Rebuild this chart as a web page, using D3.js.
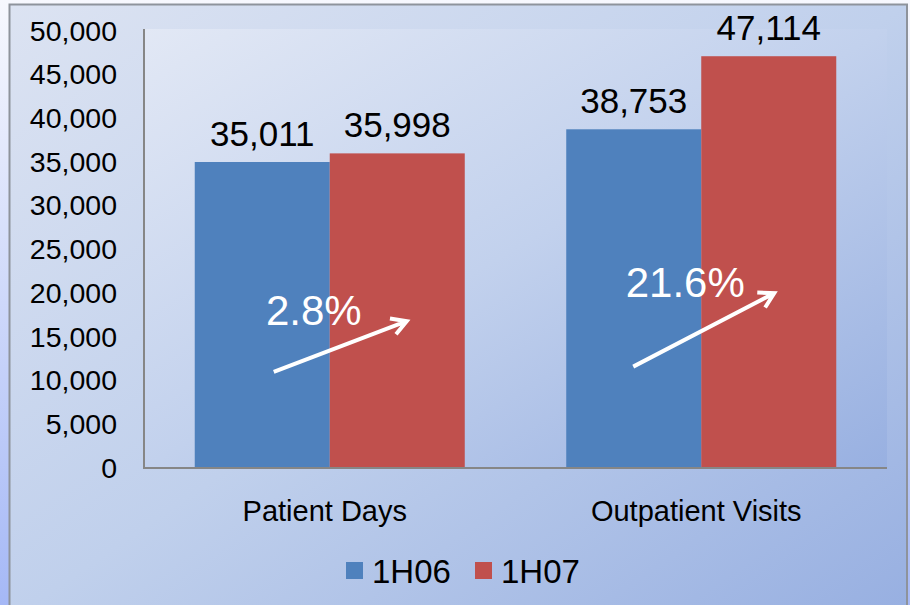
<!DOCTYPE html>
<html>
<head>
<meta charset="utf-8">
<script src="https://cdn.jsdelivr.net/npm/d3@7"></script>
<style>
  html, body { margin: 0; padding: 0; background: #fff; }
  svg { display: block; }
</style>
</head>
<body>
<script>
const categories = ['Patient Days', 'Outpatient Visits'];
const seriesNames = ['1H06', '1H07'];
const values1H06 = [35011, 38753];
const values1H07 = [35998, 47114];
const seriesColors = ['#4f81bd', '#c0504d'];
const valueLabels = [['35,011', '38,753'], ['35,998', '47,114']];
const yTicks = [0, 5000, 10000, 15000, 20000, 25000, 30000, 35000, 40000, 45000, 50000];
const growthLabels = ['2.8%', '21.6%'];
const arrowFrom = [11000, 11600];
const arrowTo = [16800, 20000];
const growthLabelAt = [16400, 19600];

const W = 910, H = 605;
const margin = { left: 144, right: 23, top: 31, bottom: 137 };

const svg = d3.select('body').append('svg')
    .attr('width', W).attr('height', H)
    .attr('xmlns', 'http://www.w3.org/2000/svg');

const defs = svg.append('defs');
function grad(id, stops, x2, y2) {
    const g = defs.append('linearGradient').attr('id', id)
        .attr('x1', 0).attr('y1', 0).attr('x2', x2).attr('y2', y2);
    stops.forEach(s => g.append('stop').attr('offset', s[0]).attr('stop-color', s[1]));
}
grad('outer', [[0, '#f7f8fe'], [1, '#a5b8f6']], 0, 1);
grad('chartBg', [[0, '#dce3f2'], [0.5, '#c0d0ec'], [1, '#97afe1']], 1, 1);
grad('plotBg', [[0, '#e2e8f5'], [0.5, '#c2d1ed'], [1, '#98b0e1']], 1, 1);

svg.append('rect').attr('width', W).attr('height', H).attr('fill', 'url(#outer)');
svg.append('rect')
    .attr('x', 9.5).attr('y', 4.5).attr('width', 897.5).attr('height', H + 10)
    .attr('fill', 'url(#chartBg)')
    .attr('stroke', '#8e939c').attr('stroke-width', 2);

const x0 = d3.scaleBand().domain(categories).range([margin.left, W - margin.right]);
const bw = x0.bandwidth();
const x1 = d3.scaleBand().domain(seriesNames).range([bw * 0.1366, bw * 0.8634]);
const y = d3.scaleLinear().domain([0, 50000]).range([H - margin.bottom, margin.top]);

svg.append('rect')
    .attr('x', margin.left).attr('y', y(50000) - 2)
    .attr('width', W - margin.right - margin.left)
    .attr('height', y(0) - y(50000) + 2)
    .attr('fill', 'url(#plotBg)');

const seriesValues = [values1H06, values1H07];

// bars
seriesNames.forEach((s, si) => {
    svg.append('g').selectAll('rect')
        .data(categories)
        .join('rect')
        .attr('x', c => x0(c) + x1(s))
        .attr('y', (c, i) => y(seriesValues[si][i]))
        .attr('width', x1.bandwidth())
        .attr('height', (c, i) => y(0) - y(seriesValues[si][i]))
        .attr('fill', seriesColors[si]);
});

// value labels
seriesNames.forEach((s, si) => {
    svg.append('g').selectAll('text')
        .data(categories)
        .join('text')
        .attr('x', c => x0(c) + x1(s) + x1.bandwidth() / 2)
        .attr('y', (c, i) => y(seriesValues[si][i]) - 16)
        .attr('text-anchor', 'middle')
        .attr('font-family', 'Arial, Liberation Sans, sans-serif')
        .attr('font-size', 35)
        .attr('fill', '#000')
        .text((c, i) => valueLabels[si][i]);
});

// y axis
const yAxis = d3.axisLeft(y).tickValues(yTicks).tickSize(0).tickPadding(27)
    .tickFormat(d3.format(','));
const ga = svg.append('g').attr('transform', `translate(${margin.left},0)`).call(yAxis);
ga.select('.domain').remove();
ga.selectAll('text')
    .attr('font-family', 'Arial, Liberation Sans, sans-serif')
    .attr('font-size', 28.5).attr('fill', '#000');

svg.append('line')
    .attr('x1', margin.left).attr('x2', margin.left)
    .attr('y1', y(50000) - 2).attr('y2', y(0))
    .attr('stroke', '#868686').attr('stroke-width', 2);
svg.append('line')
    .attr('x1', margin.left - 1).attr('x2', W - margin.right)
    .attr('y1', y(0)).attr('y2', y(0))
    .attr('stroke', '#868686').attr('stroke-width', 2);

// category labels
const xAxis = d3.axisBottom(x0).tickSize(0).tickPadding(32);
const gx = svg.append('g').attr('transform', `translate(-5,${y(0)})`).call(xAxis);
gx.select('.domain').remove();
gx.selectAll('text')
    .attr('font-family', 'Arial, Liberation Sans, sans-serif')
    .attr('font-size', 29).attr('fill', '#000');

// growth arrows and labels
const groupStart = c => x0(c) + x1(seriesNames[0]);
categories.forEach((c, i) => {
    const xs = groupStart(c) + (i === 0 ? 79 : 67);
    const xe = groupStart(c) + (i === 0 ? 212 : 208);
    const ys = y(arrowFrom[i]), ye = y(arrowTo[i]);
    const ang = Math.atan2(ye - ys, xe - xs);
    const hl = 17, ha = Math.PI / 6;
    const p = d3.path();
    p.moveTo(xs, ys); p.lineTo(xe, ye);
    p.moveTo(xe - hl * Math.cos(ang - ha), ye - hl * Math.sin(ang - ha));
    p.lineTo(xe, ye);
    p.lineTo(xe - hl * Math.cos(ang + ha), ye - hl * Math.sin(ang + ha));
    svg.append('path').attr('d', p.toString())
        .attr('fill', 'none').attr('stroke', '#fff')
        .attr('stroke-width', 4).attr('stroke-linecap', 'butt').attr('stroke-linejoin', 'miter');

    svg.append('text')
        .attr('x', groupStart(c) + 119)
        .attr('y', y(growthLabelAt[i]))
        .attr('text-anchor', 'middle')
        .attr('font-family', 'Arial, Liberation Sans, sans-serif')
        .attr('font-size', 42)
        .attr('fill', '#fff')
        .text(growthLabels[i]);
});

// legend
const legend = svg.append('g').attr('transform', 'translate(346,583)');
const legendX = [0, 129];
seriesNames.forEach((s, i) => {
    const g = legend.append('g').attr('transform', `translate(${legendX[i]},0)`);
    g.append('rect').attr('x', 0).attr('y', -21).attr('width', 17).attr('height', 17)
        .attr('fill', seriesColors[i]);
    g.append('text').attr('x', 26).attr('y', 0)
        .attr('font-family', 'Arial, Liberation Sans, sans-serif')
        .attr('font-size', 33).attr('fill', '#000')
        .text(s);
});
</script>
</body>
</html>
